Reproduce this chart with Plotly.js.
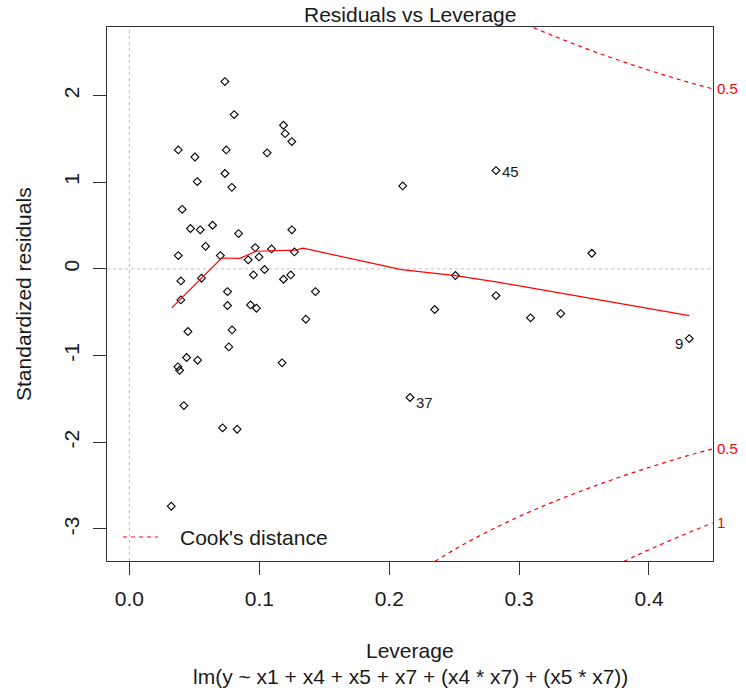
<!DOCTYPE html>
<html>
<head>
<meta charset="utf-8">
<script src="https://cdn.plot.ly/plotly-3.0.1.min.js"></script>
<style>html,body{margin:0;padding:0;background:#fff;}#plot{width:746px;height:694px;}</style>
</head>
<body>
<div id="plot"></div>
<script>
// ---- data ----
const leverage = [0.0735,0.0806,0.1186,0.1199,0.125,0.0376,0.0745,0.106,0.0504,0.0735,
  0.0522,0.0788,0.0406,0.064,0.047,0.0545,0.125,0.084,0.0586,0.0968,
  0.1094,0.0376,0.070,0.127,0.0914,0.0998,0.104,0.0396,0.0555,0.0955,
  0.1186,0.1242,0.0396,0.0755,0.1432,0.0755,0.0932,0.0978,0.1358,0.045,
  0.079,0.0765,0.044,0.0525,0.1175,0.0373,0.0386,0.0419,0.0717,0.0829,
  0.0322,0.2104,0.2822,0.356,0.251,0.2822,0.235,0.3088,0.332,0.431,0.216];
const stdResid = [2.16,1.78,1.656,1.56,1.468,1.372,1.372,1.338,1.29,1.10,
  1.007,0.94,0.687,0.503,0.465,0.45,0.45,0.407,0.26,0.245,
  0.23,0.153,0.153,0.196,0.104,0.138,-0.008,-0.139,-0.108,-0.07,
  -0.12,-0.07,-0.358,-0.262,-0.262,-0.423,-0.416,-0.454,-0.581,-0.723,
  -0.704,-0.90,-1.023,-1.054,-1.084,-1.13,-1.17,-1.577,-1.834,-1.85,
  -2.738,0.957,1.134,0.18,-0.077,-0.308,-0.469,-0.565,-0.516,-0.804,-1.484];
const pointIds = ["","","","","","","","","","","","","","","","","","","","","","","","","","","","","","","","","","","","","","","","","","","","","","","","","","","","","45","","","","","","","9","37"];

const smoothLev = [0.0325,0.0710,0.085,0.0978,0.1273,0.1337,0.2094,0.251,0.2822,0.431];
const smoothRes = [-0.45,0.125,0.122,0.203,0.215,0.238,-0.008,-0.077,-0.15,-0.539];

const cookUpLev = [0.30,0.31,0.33,0.35,0.37,0.39,0.41,0.43,0.449];
const cookUpRes = [2.858,2.79,2.666,2.55,2.441,2.340,2.244,2.154,2.077];
const cookLo05Lev = [0.23,0.25,0.27,0.29,0.31,0.33,0.35,0.37,0.39,0.41,0.43,0.449];
const cookLo05Res = [-3.423,-3.240,-3.076,-2.927,-2.79,-2.666,-2.55,-2.441,-2.340,-2.244,-2.154,-2.077];
const cookLo1Lev = [0.375,0.39,0.41,0.43,0.449];
const cookLo1Res = [-3.416,-3.309,-3.174,-3.046,-2.931];
const cookLabels = ["0.5","0.5","1"];

const xTicks = [0,0.1,0.2,0.3,0.4];
const xTickText = ["0.0","0.1","0.2","0.3","0.4"];
const yTicks = [-3,-2,-1,0,1,2];
const yTickText = ["-3","-2","-1","0","1","2"];

// ---- drawing ----
const FONT = "Liberation Sans, Arial, sans-serif";
const TXT = "#1a1a1a";
const red = "#ff0000";
const traces = [
  {x: leverage, y: stdResid, mode: "markers", type: "scatter",
   marker: {symbol: "diamond-open", size: 6, color: "#000", line: {width: 1.1, color: "#000"}},
   hoverinfo: "x+y"},
  {x: smoothLev, y: smoothRes, mode: "lines", type: "scatter",
   line: {color: red, width: 1.2}},
  {x: cookUpLev, y: cookUpRes, mode: "lines", type: "scatter",
   line: {color: red, width: 1.2, dash: "4px,4px", shape: "spline"}},
  {x: cookLo05Lev, y: cookLo05Res, mode: "lines", type: "scatter",
   line: {color: red, width: 1.2, dash: "4px,4px", shape: "spline"}},
  {x: cookLo1Lev, y: cookLo1Res, mode: "lines", type: "scatter",
   line: {color: red, width: 1.2, dash: "4px,4px", shape: "spline"}}
];

const annotations = [];
pointIds.forEach((lab, i) => {
  if (!lab) return;
  const right = leverage[i] < 0.4;
  annotations.push({x: leverage[i], y: stdResid[i], xref: "x", yref: "y", text: lab,
    showarrow: false, xanchor: right ? "left" : "right", xshift: right ? 4 : -4,
    yshift: lab === "45" ? -1 : -5,
    font: {family: FONT, size: 15, color: TXT}});
});
const cookEnds = [cookUpRes[cookUpRes.length-1], cookLo05Res[cookLo05Res.length-1], cookLo1Res[cookLo1Res.length-1]];
cookEnds.forEach((v, k) => {
  annotations.push({x: 1, xref: "paper", y: v, yref: "y", text: cookLabels[k], showarrow: false,
    xanchor: "left", xshift: 2, font: {family: FONT, size: 15, color: red}});
});
annotations.push(
  {x: 0.5, xref: "paper", y: 1, yref: "paper", yshift: 13, yanchor: "middle", text: "Residuals vs Leverage",
   showarrow: false, font: {family: FONT, size: 21, color: TXT}},
  {x: 0.5, xref: "paper", y: 0, yref: "paper", yshift: -89, yanchor: "middle", text: "Leverage",
   showarrow: false, font: {family: FONT, size: 21, color: TXT}},
  {x: 0.5, xref: "paper", y: 0, yref: "paper", yshift: -115, yanchor: "middle",
   text: "lm(y ~ x1 + x4 + x5 + x7 + (x4 * x7) + (x5 * x7))",
   showarrow: false, font: {family: FONT, size: 21, color: TXT}},
  {x: 0, xref: "paper", xshift: -84, xanchor: "center", y: 0.5, yref: "paper", yanchor: "middle",
   textangle: -90, text: "Standardized residuals", showarrow: false,
   font: {family: FONT, size: 21, color: TXT}},
  {x: 0.117, xref: "paper", xanchor: "left", y: 0.0449, yref: "paper", yanchor: "middle",
   text: "Cook's distance", showarrow: false, font: {family: FONT, size: 21, color: TXT}}
);

const shapes = [
  {type: "line", xref: "x", yref: "paper", x0: 0, x1: 0, y0: 0, y1: 1,
   line: {color: "#bdbdbd", width: 1, dash: "dot"}, layer: "below"},
  {type: "line", xref: "paper", yref: "y", x0: 0, x1: 1, y0: 0, y1: 0,
   line: {color: "#bdbdbd", width: 1, dash: "dot"}, layer: "below"},
  {type: "line", xref: "paper", yref: "paper", x0: 0.0264, x1: 0.0842, y0: 0.0449, y1: 0.0449,
   line: {color: red, width: 1.2, dash: "4px,4px"}}
];

const axisCommon = {showgrid: false, zeroline: false, showline: true, linecolor: "#333", linewidth: 1,
  mirror: true, ticks: "outside", ticklen: 13, tickwidth: 1, tickcolor: "#333",
  tickfont: {family: FONT, size: 21, color: TXT}};

const layout = {
  width: 746, height: 694,
  margin: {l: 107, r: 33, t: 27, b: 133},
  paper_bgcolor: "#fff", plot_bgcolor: "#fff",
  showlegend: false,
  xaxis: Object.assign({}, axisCommon, {range: [-0.01728, 0.44928], tickmode: "array",
    tickvals: xTicks, ticktext: xTickText, ticklabelstandoff: 6}),
  yaxis: Object.assign({}, axisCommon, {range: [-3.37, 2.79], tickmode: "array",
    tickvals: yTicks, ticktext: yTickText, tickangle: -90, ticklabelstandoff: 6}),
  annotations: annotations,
  shapes: shapes
};

Plotly.newPlot("plot", traces, layout, {displayModeBar: false, staticPlot: true});
</script>
</body>
</html>
